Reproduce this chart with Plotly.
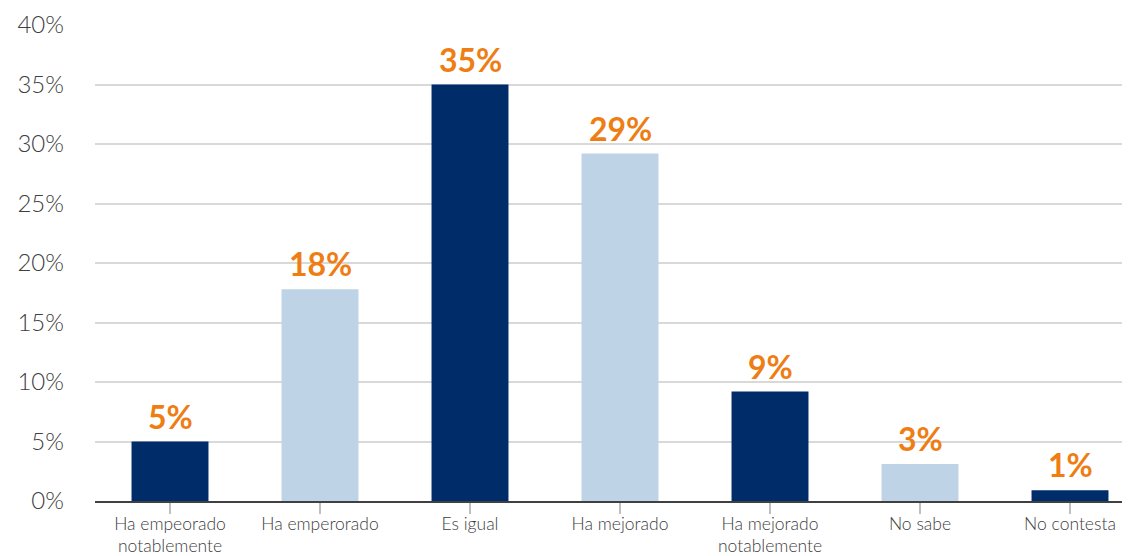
import plotly.graph_objects as go

# data
categories = ["Ha empeorado\nnotablemente", "Ha emperorado", "Es igual", "Ha mejorado",
              "Ha mejorado\nnotablemente", "No sabe", "No contesta"]
values = [5.0, 17.8, 35.0, 29.2, 9.2, 3.1, 0.9]
labels = ["5%", "18%", "35%", "29%", "9%", "3%", "1%"]
y_ticks = [0, 5, 10, 15, 20, 25, 30, 35, 40]
y_ticktext = [f"{v}%" for v in y_ticks]

NAVY = "#002d6a"
LIGHT = "#bed3e6"
ORANGE = "#ee7d14"
TEXT = "#404040"
bar_colors = [NAVY, LIGHT, NAVY, LIGHT, NAVY, LIGHT, NAVY]

xs = list(range(len(categories)))
first_lines = [c.split("\n")[0] for c in categories]

fig = go.Figure()
fig.add_trace(go.Bar(x=xs, y=values,
                     marker=dict(color=bar_colors, line=dict(width=0)),
                     width=0.513, hoverinfo="skip"))

# value labels above bars
for i, (v, t) in enumerate(zip(values, labels)):
    fig.add_annotation(x=i, y=v, text=t, showarrow=False, yanchor="bottom", yshift=4,
                       font=dict(family="Lato", size=32, color=ORANGE, weight="bold"))

# second line of wrapped category labels (tighter line spacing than <br>)
for i, c in enumerate(categories):
    if "\n" in c:
        fig.add_annotation(x=i, y=0, text=c.split("\n")[1], showarrow=False,
                           yanchor="top", yshift=-33, borderpad=0,
                           font=dict(family="Lato", size=17.5, color=TEXT, weight=300))

# the page body adds an 8px offset, so the figure is sized 8px smaller
fig.update_layout(
    width=1122, height=548,
    margin=dict(l=87, r=0, t=17, b=55),
    paper_bgcolor="white", plot_bgcolor="white",
    showlegend=False,
    font=dict(family="Lato", color=TEXT),
)
fig.update_xaxes(
    tickmode="array", tickvals=xs, ticktext=first_lines,
    range=[-0.5, 6.4], tickson="boundaries", ticks="outside", ticklen=11,
    tickcolor="#bfbfbf", tickwidth=1.5, automargin=False,
    showline=True, linecolor=TEXT, linewidth=1.5,
    ticklabelstandoff=-5,
    tickfont=dict(size=17.5, color=TEXT, weight=300),
    showgrid=False, zeroline=False,
)
fig.update_yaxes(
    range=[0, 40], tickmode="array", tickvals=y_ticks, ticktext=y_ticktext,
    showgrid=True, gridcolor="#d9d9d9", gridwidth=1.5, automargin=False,
    showline=False, zeroline=False, ticks="",
    ticklabelstandoff=30,
    tickfont=dict(size=24, color=TEXT, weight=300),
)

fig.write_html("out.html")
